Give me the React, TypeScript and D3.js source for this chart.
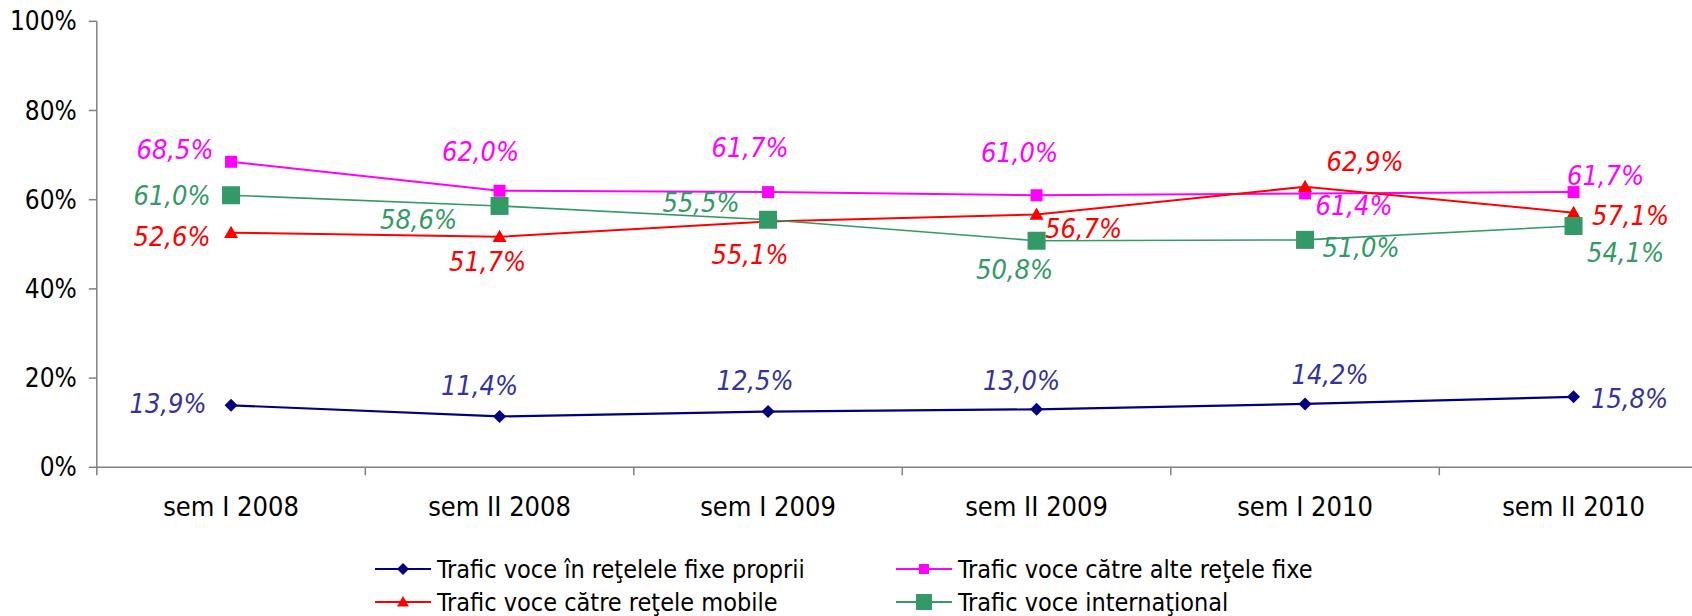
import { scaleBand, scaleLinear, line } from 'd3'

// data (percent)
const categories = ['sem I 2008', 'sem II 2008', 'sem I 2009', 'sem II 2009', 'sem I 2010', 'sem II 2010']
const fixeProprii = [13.9, 11.4, 12.5, 13.0, 14.2, 15.8]
const alteFixe = [68.5, 62.0, 61.7, 61.0, 61.4, 61.7]
const mobile = [52.6, 51.7, 55.1, 56.7, 62.9, 57.1]
const international = [61.0, 58.6, 55.5, 50.8, 51.0, 54.1]
const yTicks = [0, 20, 40, 60, 80, 100]

// label nudges, relative to each point (placement only)
const offFixe = [[-63, -2], [-20, -31], [-13, -31], [-15, -29], [25, -29], [56, 2]]
const offAlte = [[-56, -12], [-19, -39], [-18, -45], [-17, -43], [49, 12], [32, -17]]
const offMobile = [[-59, 4], [-12, 25], [-18, 33], [47, 14], [60, -25], [57, 3]]
const offIntl = [[-59, 0], [-81, 14], [-67, -17], [-22, 29], [56, 8], [52, 26]]

const FONT = '"DejaVu Sans Condensed", "DejaVu Sans", sans-serif'

type Series = {
  name: string
  values: number[]
  offsets: number[][]
  color: string
  labelColor: string
  marker: string
  markerSize: number
  legendSize: number
  width: number
}

const series: Series[] = [
  { name: 'Trafic voce în reţelele fixe proprii', values: fixeProprii, offsets: offFixe, color: '#000080', labelColor: '#333399', marker: 'diamond', markerSize: 13, legendSize: 12, width: 2.2 },
  { name: 'Trafic voce către alte reţele fixe', values: alteFixe, offsets: offAlte, color: '#ff00ff', labelColor: '#ff00ff', marker: 'square', markerSize: 12, legendSize: 10, width: 2 },
  { name: 'Trafic voce către reţele mobile', values: mobile, offsets: offMobile, color: '#ff0000', labelColor: '#ff0000', marker: 'triangle', markerSize: 14, legendSize: 12, width: 2 },
  { name: 'Trafic voce internaţional', values: international, offsets: offIntl, color: '#339966', labelColor: '#339966', marker: 'square', markerSize: 18, legendSize: 16, width: 1.6 },
]

function markerPath(kind: string, s: number) {
  const r = s / 2
  if (kind === 'diamond') return `M0,${-r}L${r},0L0,${r}L${-r},0Z`
  if (kind === 'triangle') return `M0,${-r}L${r},${r * 0.75}L${-r},${r * 0.75}Z`
  return `M${-r},${-r}H${r}V${r}H${-r}Z`
}

const fmt = (v: number) => v.toFixed(1).replace('.', ',') + '%'

export default function App() {
  const view = { x: 1692, y: 616 }
  const plot = { left: 96.8, right: 1707.8, top: 21.3, bottom: 467.3 }

  const xScale = scaleBand<string>().domain(categories).range([plot.left, plot.right])
  const yScale = scaleLinear().domain([0, 100]).range([plot.bottom, plot.top])
  const cx = (i: number) => (xScale(categories[i]) ?? 0) + xScale.bandwidth() / 2

  const path = line<number>().x((_, i) => cx(i)).y(d => yScale(d))

  const legendCols = [375, 896]
  const legendRows = [569, 602]

  return (
    <svg width={view.x} height={view.y} viewBox={`0 0 ${view.x} ${view.y}`}
      style={{ position: 'absolute', left: 0, top: 0, background: '#fff' }}
      fontFamily={FONT}>
      {/* axes */}
      <g stroke="#808080" strokeWidth={1.5} fill="none">
        <line x1={plot.left} x2={plot.left} y1={plot.top} y2={plot.bottom} />
        <line x1={plot.left} x2={plot.right} y1={plot.bottom} y2={plot.bottom} />
        {yTicks.map(t => (
          <line key={t} x1={plot.left - 8} x2={plot.left} y1={yScale(t)} y2={yScale(t)} />
        ))}
        {categories.map(c => (
          <line key={c} x1={xScale(c)} x2={xScale(c)} y1={plot.bottom} y2={plot.bottom + 8} />
        ))}
        <line x1={plot.right} x2={plot.right} y1={plot.bottom} y2={plot.bottom + 8} />
      </g>
      <g fill="#000">
        {yTicks.map(t => (
          <text key={t} x={plot.left - 20} y={yScale(t)} textAnchor="end" dominantBaseline="central" fontSize={26}>{t}%</text>
        ))}
        {categories.map((c, i) => (
          <text key={c} x={cx(i)} y={506} textAnchor="middle" dominantBaseline="central" fontSize={27}>{c}</text>
        ))}
      </g>

      {/* series */}
      {series.map(s => (
        <g key={s.name}>
          <path d={path(s.values) ?? ''} fill="none" stroke={s.color} strokeWidth={s.width} />
          {s.values.map((v, i) => (
            <path key={i} d={markerPath(s.marker, s.markerSize)}
              transform={`translate(${cx(i)},${yScale(v)})`} fill={s.color} />
          ))}
          {s.values.map((v, i) => (
            <text key={'l' + i} x={cx(i) + s.offsets[i][0]} y={yScale(v) + s.offsets[i][1]}
              textAnchor="middle" dominantBaseline="central" fontStyle="italic"
              fontSize={27} fill={s.labelColor}>{fmt(v)}</text>
          ))}
        </g>
      ))}

      {/* legend */}
      {series.map((s, i) => {
        const lx = legendCols[i % 2]
        const ly = legendRows[Math.floor(i / 2)]
        return (
          <g key={'leg' + i} transform={`translate(${lx},${ly})`}>
            <line x1={0} x2={56} y1={0} y2={0} stroke={s.color} strokeWidth={2} />
            <path d={markerPath(s.marker, s.legendSize)} transform="translate(28,0)" fill={s.color} />
            <text x={62} y={0} dominantBaseline="central" fontSize={25} fill="#000">{s.name}</text>
          </g>
        )
      })}
    </svg>
  )
}
